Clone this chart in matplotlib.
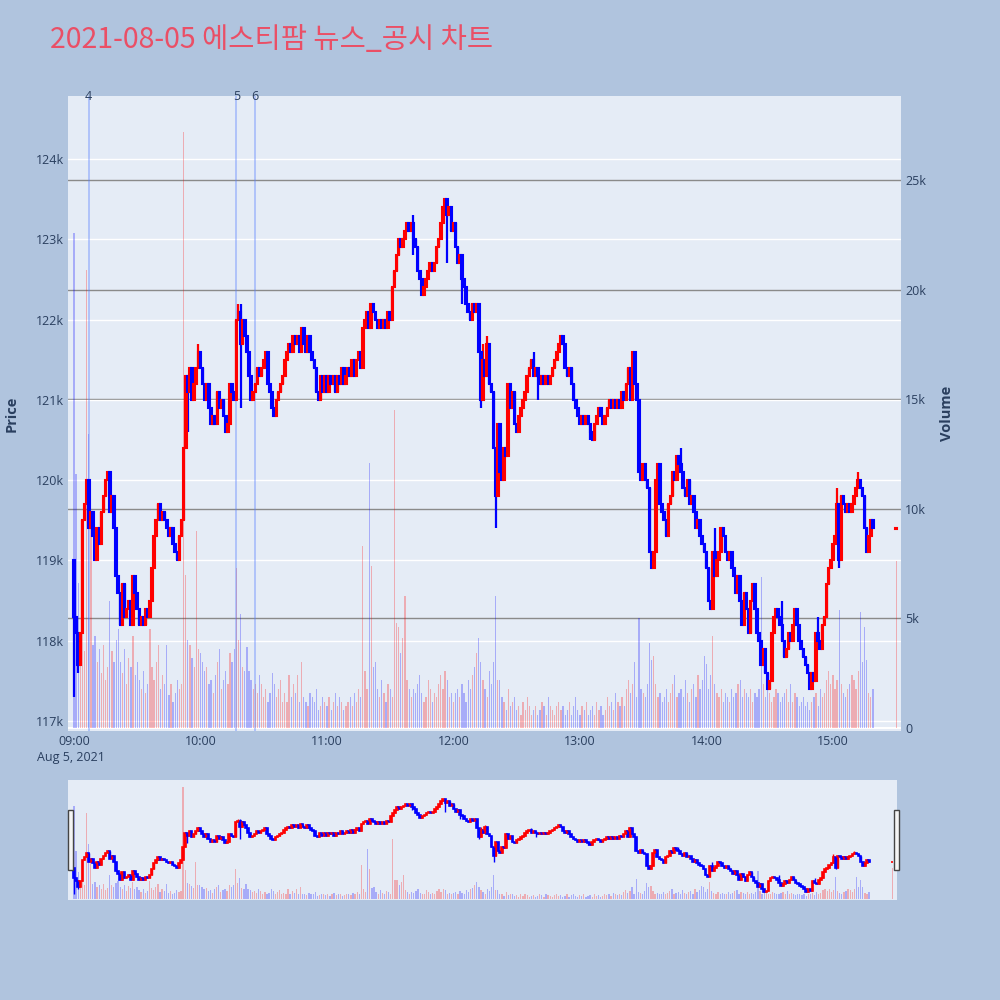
import matplotlib
matplotlib.use("Agg")
import matplotlib.pyplot as plt
import matplotlib.transforms as mtransforms
from matplotlib.patches import Rectangle

# 1-minute closes from 09:00 (unit: 100 won)
closes_100 = [
    1183, 1181, 1177, 1181, 1195, 1197, 1200, 1194, 1196, 1193,
    1190, 1194, 1192, 1196, 1198, 1200, 1201, 1196, 1198, 1194,
    1188, 1186, 1182, 1187, 1183, 1184, 1185, 1182, 1188, 1186,
    1184, 1182, 1183, 1182, 1184, 1183, 1185, 1189, 1193, 1195,
    1197, 1195, 1196, 1195, 1194, 1193, 1194, 1192, 1191, 1190,
    1193, 1195, 1204, 1213, 1211, 1214, 1210, 1212, 1214, 1216,
    1214, 1212, 1210, 1212, 1209, 1207, 1208, 1207, 1211, 1209,
    1210, 1208, 1206, 1207, 1212, 1211, 1210, 1220, 1221, 1217,
    1220, 1218, 1216, 1213, 1210, 1211, 1212, 1214, 1213, 1214,
    1215, 1216, 1212, 1211, 1209, 1208, 1210, 1211, 1212, 1213,
    1215, 1216, 1217, 1216, 1218, 1217, 1218, 1216, 1219, 1217,
    1216, 1218, 1216, 1215, 1214, 1211, 1210, 1213, 1211, 1213,
    1211, 1213, 1212, 1213, 1211, 1213, 1212, 1214, 1212, 1213,
    1214, 1213, 1215, 1213, 1215, 1216, 1214, 1219, 1220, 1221,
    1219, 1222, 1221, 1220, 1219, 1220, 1219, 1220, 1219, 1221,
    1220, 1224, 1226, 1228, 1230, 1229, 1230, 1231, 1232, 1231,
    1232, 1230, 1229, 1226, 1225, 1223, 1224, 1225, 1226, 1227,
    1226, 1227, 1229, 1230, 1232, 1234, 1235, 1233, 1234, 1231,
    1232, 1229, 1227, 1228, 1225, 1224, 1222, 1221, 1220, 1222,
    1221, 1222, 1216, 1210, 1215, 1213, 1217, 1212, 1211, 1204,
    1198, 1207, 1201, 1200, 1204, 1203, 1212, 1209, 1211, 1207,
    1206, 1208, 1209, 1210, 1211, 1213, 1214, 1215, 1213, 1214,
    1213, 1212, 1213, 1212, 1213, 1212, 1213, 1214, 1215, 1216,
    1217, 1218, 1217, 1214, 1213, 1214, 1212, 1210, 1209, 1208,
    1207, 1208, 1207, 1208, 1207, 1206, 1205, 1207, 1208, 1209,
    1208, 1207, 1208, 1209, 1210, 1209, 1210, 1209, 1210, 1209,
    1211, 1210, 1212, 1214, 1210, 1216, 1212, 1210, 1201, 1200,
    1202, 1200, 1199, 1191, 1189, 1191, 1200, 1202, 1197, 1196,
    1195, 1193, 1197, 1198, 1201, 1200, 1203, 1202, 1201, 1199,
    1198, 1200, 1197, 1198, 1196, 1194, 1195, 1193, 1192, 1191,
    1189, 1185, 1184, 1191, 1188, 1190, 1191, 1194, 1193, 1191,
    1190, 1191, 1189, 1188, 1186, 1188, 1185, 1182, 1186, 1184,
    1181, 1185, 1187, 1184, 1181, 1180, 1177, 1179, 1176, 1174,
    1175, 1181, 1183, 1184, 1183, 1182, 1180, 1178, 1179, 1181,
    1180, 1182, 1184, 1182, 1180, 1179, 1178, 1177, 1176, 1174,
    1176, 1175, 1181, 1180, 1179, 1182, 1183, 1187, 1189, 1190,
    1192, 1193, 1197, 1190, 1198, 1197, 1196, 1197, 1196, 1197,
    1198, 1199, 1200, 1199, 1198, 1194, 1191, 1193, 1195, 1194,
]
first_open_100 = 1190

# long wicks (minute index: price in 100 won)
wick_high_100 = {59: 1217, 78: 1222, 79: 1222, 161: 1233, 194: 1217, 196: 1218,
                 218: 1216, 288: 1204, 304: 1194, 336: 1185, 353: 1183, 362: 1199, 372: 1201}
wick_low_100 = {0: 1173, 2: 1176, 54: 1206, 79: 1209, 161: 1228, 177: 1227, 184: 1222,
                193: 1209, 200: 1194, 220: 1210, 245: 1205, 363: 1189}

# 1-minute volume (unit: 100 shares)
volumes_100 = [
    226, 116, 66, 40, 48, 35, 209, 134, 92, 38,
    42, 30, 36, 25, 38, 22, 28, 58, 35, 30,
    40, 45, 30, 25, 36, 20, 32, 28, 42, 24,
    30, 22, 18, 26, 16, 20, 45, 28, 22, 30,
    38, 18, 24, 20, 38, 15, 20, 12, 16, 22,
    18, 20, 272, 70, 40, 38, 32, 28, 90, 36,
    34, 30, 26, 28, 20, 22, 16, 24, 30, 36,
    18, 22, 26, 20, 34, 30, 36, 73, 40, 52,
    28, 26, 37, 26, 22, 18, 20, 16, 24, 20,
    14, 18, 12, 16, 25, 20, 14, 18, 22, 12,
    16, 12, 24, 14, 20, 16, 24, 12, 30, 14,
    12, 10, 16, 14, 12, 18, 8, 10, 14, 12,
    10, 14, 8, 12, 16, 10, 14, 12, 8, 10,
    12, 14, 10, 16, 12, 18, 14, 83, 26, 18,
    121, 74, 28, 30, 18, 14, 22, 16, 12, 20,
    18, 14, 145, 48, 46, 34, 41, 60, 22, 18,
    14, 18, 16, 20, 24, 16, 12, 14, 22, 18,
    12, 16, 14, 20, 24, 18, 26, 22, 14, 16,
    12, 16, 18, 14, 20, 16, 12, 22, 18, 24,
    28, 34, 41, 30, 22, 18, 14, 26, 20, 30,
    60, 22, 22, 14, 12, 8, 18, 10, 12, 14,
    8, 10, 6, 12, 8, 14, 10, 6, 8, 10,
    6, 8, 12, 10, 6, 14, 10, 8, 6, 10,
    12, 8, 10, 6, 8, 12, 6, 10, 14, 8,
    6, 10, 8, 12, 6, 8, 10, 6, 12, 8,
    10, 6, 8, 14, 10, 12, 8, 16, 12, 10,
    14, 10, 18, 22, 16, 20, 30, 14, 50, 18,
    16, 14, 20, 39, 31, 33, 20, 14, 16, 12,
    14, 18, 12, 16, 20, 24, 14, 16, 18, 14,
    22, 16, 12, 18, 20, 14, 24, 18, 22, 33,
    29, 18, 24, 42, 20, 16, 14, 18, 12, 16,
    14, 12, 18, 14, 16, 20, 22, 14, 18, 16,
    14, 18, 12, 16, 14, 18, 69, 20, 14, 18,
    16, 12, 14, 18, 16, 12, 14, 16, 18, 12,
    20, 12, 16, 14, 10, 12, 14, 10, 12, 8,
    12, 14, 16, 10, 18, 14, 16, 22, 26, 20,
    24, 18, 22, 54, 20, 16, 14, 18, 20, 24,
    22, 18, 26, 53, 30, 46, 31, 16, 14, 18,
]

# closing auction at 15:30
auction_minute = 390
auction_open_100 = 1193.9
auction_close_100 = 1194
auction_volume_100 = 76

# news markers (minute from 09:00, label)
news_minutes = [7, 77, 86]
news_labels = ["4", "5", "6"]

hour_ticks = [0, 60, 120, 180, 240, 300, 360]
hour_labels = ["09:00", "10:00", "11:00", "12:00", "13:00", "14:00", "15:00"]
price_ticks = [117000, 118000, 119000, 120000, 121000, 122000, 123000, 124000]
volume_ticks = [0, 5000, 10000, 15000, 20000, 25000]

# ---- build OHLC ----
minutes = list(range(len(closes_100))) + [auction_minute]
closes = [c * 100 for c in closes_100] + [auction_close_100 * 100]
opens = [first_open_100 * 100] + [c * 100 for c in closes_100[:-1]] + [auction_open_100 * 100]
highs = [max(o, c) for o, c in zip(opens, closes)]
lows = [min(o, c) for o, c in zip(opens, closes)]
for k, v in wick_high_100.items():
    highs[k] = max(highs[k], v * 100)
for k, v in wick_low_100.items():
    lows[k] = min(lows[k], v * 100)
volumes = [v * 100 for v in volumes_100] + [auction_volume_100 * 100]

up = [c > o for o, c in zip(opens, closes)]
ccol = ["#ff0000" if u else "#0000ff" for u in up]
vcol = [(1, 0, 0, 0.27) if u else (0, 0, 1, 0.27) for u in up]
body_bottom = [min(o, c) for o, c in zip(opens, closes)]
body_height = [abs(c - o) for o, c in zip(opens, closes)]

BG = "#b0c4de"
PLOT_BG = "#e5ecf6"
TXT = "#2a3f5f"
xlim = (-2.85, 392.3)
plim = (116875, 124785)
vlim = (-137, 28830)

plt.rcParams['font.family'] = ['Open Sans', 'Noto Sans CJK KR', 'DejaVu Sans']

fig = plt.figure(figsize=(10, 10), dpi=100, facecolor=BG)

# ---- main chart ----
axv = fig.add_axes([0.068, 0.269, 0.833, 0.635])
axp = axv.twinx()
axp.set_zorder(axv.get_zorder() + 1)
axp.patch.set_visible(False)
axv.set_facecolor(PLOT_BG)

axv.set_xlim(*xlim)
axv.set_ylim(*vlim)
axp.set_ylim(*plim)

# grid: grey for volume, white for price, both below the traces
for v in volume_ticks[1:]:
    axv.axhline(v, color="#8a8a8a", lw=1.0, zorder=0)
axv.axhline(0, color="white", lw=1.5, zorder=0)
ptrans = mtransforms.blended_transform_factory(axv.transAxes, axp.transData)
for p in price_ticks:
    axv.plot([0, 1], [p, p], color="white", lw=1.0, transform=ptrans, zorder=0)

axv.bar(minutes, volumes, width=0.6, color=vcol, zorder=1)

for m in news_minutes:
    axv.axvline(m, color=(0.35, 0.5, 1.0, 0.45), lw=1.2, zorder=2)
ntrans = mtransforms.blended_transform_factory(axv.transData, axv.transAxes)
for m, lab in zip(news_minutes, news_labels):
    axv.text(m, 1.0, lab, transform=ntrans, ha="center", va="center",
             fontsize=9, color=TXT, clip_on=False)

axp.vlines(minutes, lows, highs, colors=ccol, lw=1.6, zorder=3)
axp.bar(minutes, body_height, bottom=body_bottom, width=0.75, color=ccol,
        edgecolor=ccol, linewidth=1.5, zorder=4)

for a in (axv, axp):
    for s in a.spines.values():
        s.set_visible(False)

axp.yaxis.tick_left()
axp.yaxis.set_label_position("left")
axp.set_yticks(price_ticks)
axp.set_yticklabels([f"{p // 1000}k" for p in price_ticks])
axv.yaxis.tick_right()
axv.yaxis.set_label_position("right")
axv.set_yticks(volume_ticks)
axv.set_yticklabels(["0"] + [f"{v // 1000}k" for v in volume_ticks[1:]])
axv.set_xticks(hour_ticks)
axv.set_xticklabels(hour_labels)
for a in (axv, axp):
    a.tick_params(length=0, labelsize=9, labelcolor=TXT, pad=3)
axp.tick_params(axis="x", bottom=False, labelbottom=False)

axp.set_ylabel("Price", fontsize=10.5, fontweight="bold", color=TXT, labelpad=12)
axv.set_ylabel("Volume", fontsize=10.5, fontweight="bold", color=TXT, labelpad=10)

fig.text(0.037, 1 - 0.757, "Aug 5, 2021", fontsize=9, color=TXT, va="center", ha="left")

fig.text(0.05, 1 - 0.040, "2021-08-05 에스티팜 뉴스_공시 차트", fontsize=20.5,
         color="#ea4f66", va="center", ha="left", family=["Noto Sans CJK KR", "DejaVu Sans"])

# ---- range slider ----
sv = fig.add_axes([0.068, 0.100, 0.829, 0.120])
sp = sv.twinx()
sp.set_zorder(sv.get_zorder() + 1)
sp.patch.set_visible(False)
sv.set_facecolor(PLOT_BG)
sv.set_xlim(*xlim)
sv.set_ylim(*vlim)
sp.set_ylim(*plim)
sv.bar(minutes, volumes, width=0.6, color=vcol)
sp.vlines(minutes, lows, highs, colors=ccol, lw=1.0)
sp.bar(minutes, body_height, bottom=body_bottom, width=0.75, color=ccol,
       edgecolor=ccol, linewidth=1.2)
for a in (sv, sp):
    a.set_xticks([])
    a.set_yticks([])
    for s in a.spines.values():
        s.set_visible(False)

for hx in (0.068, 0.894):
    fig.patches.append(Rectangle((hx, 0.130), 0.005, 0.060, transform=fig.transFigure,
                                 facecolor="#f4f4f4", edgecolor="#444444", lw=1.0))

fig.savefig("out.png", dpi=100, facecolor=BG)
